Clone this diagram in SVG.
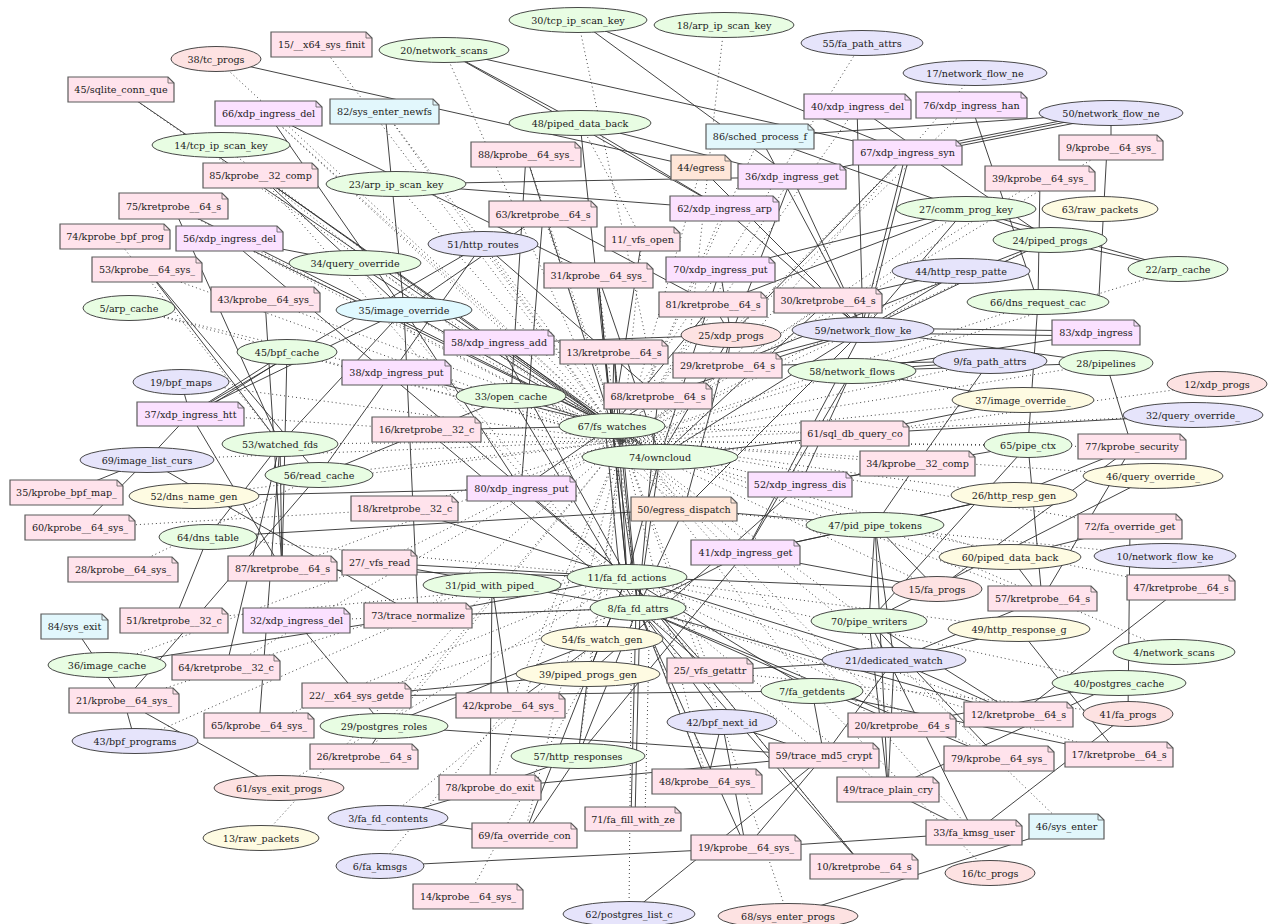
<svg xmlns="http://www.w3.org/2000/svg" width="1268" height="924" viewBox="0 0 1268 924">
<style>
text{font-family:"DejaVu Serif","Liberation Serif",serif;font-size:9.6px;fill:#1a1a1a;text-anchor:middle;dominant-baseline:central}
.s line{stroke:#2e2e2e;stroke-width:.9}
.d line{stroke:#444;stroke-width:1;stroke-dasharray:1 3}
.nb{stroke:#5a5a5a;stroke-width:1.2}
.f{fill:none;stroke:#5a5a5a;stroke-width:.8}
.eb{stroke:#333;stroke-width:.9}
.p{fill:#ffe3ec}.x{fill:#fbe1ff}.c{fill:#e2f7fc}.e{fill:#ffe6d8}
.g{fill:#e8fde3}.l{fill:#e6e4fb}.r{fill:#fde2e2}.y{fill:#fefbe2}.ci{fill:#e0f9ff}
</style>
<rect width="1268" height="924" fill="#fff"/>
<g id="connectors">
<g class="s">
<line x1="216" y1="59" x2="701" y2="168"/><line x1="121" y1="90" x2="612" y2="426"/><line x1="268" y1="114" x2="404" y2="310"/><line x1="268" y1="114" x2="598" y2="276"/><line x1="385" y1="112" x2="404" y2="310"/><line x1="260" y1="176" x2="612" y2="426"/><line x1="260" y1="176" x2="660" y2="457"/><line x1="260" y1="176" x2="404" y2="310"/><line x1="173" y1="206" x2="280" y2="444"/><line x1="173" y1="206" x2="612" y2="426"/><line x1="229" y1="239" x2="355" y2="263"/><line x1="229" y1="239" x2="612" y2="426"/><line x1="229" y1="239" x2="627" y2="577"/><line x1="147" y1="270" x2="280" y2="444"/><line x1="147" y1="270" x2="319" y2="475"/><line x1="265" y1="300" x2="282" y2="569"/><line x1="444" y1="50" x2="580" y2="123"/><line x1="444" y1="50" x2="724" y2="209"/><line x1="444" y1="50" x2="908" y2="153"/><line x1="578" y1="20" x2="792" y2="177"/><line x1="578" y1="20" x2="908" y2="153"/><line x1="580" y1="123" x2="612" y2="426"/><line x1="580" y1="123" x2="724" y2="209"/><line x1="580" y1="123" x2="792" y2="177"/><line x1="526" y1="155" x2="511" y2="396"/><line x1="526" y1="155" x2="612" y2="426"/><line x1="543" y1="214" x2="404" y2="310"/><line x1="543" y1="214" x2="521" y2="489"/><line x1="483" y1="244" x2="190" y2="414"/><line x1="483" y1="244" x2="319" y2="475"/><line x1="483" y1="244" x2="658" y2="396"/><line x1="642" y1="239" x2="612" y2="426"/><line x1="1111" y1="113" x2="760" y2="137"/><line x1="1111" y1="113" x2="792" y2="177"/><line x1="1111" y1="111" x2="908" y2="151"/><line x1="1111" y1="116" x2="908" y2="156"/><line x1="1111" y1="113" x2="1111" y2="148"/><line x1="1107" y1="148" x2="1099" y2="296"/><line x1="1040" y1="179" x2="1038" y2="302"/><line x1="1038" y1="302" x2="1028" y2="445"/><line x1="971" y1="105" x2="1038" y2="302"/><line x1="857" y1="107" x2="1050" y2="240"/><line x1="906" y1="153" x2="861" y2="330"/><line x1="910" y1="153" x2="865" y2="330"/><line x1="1050" y1="240" x2="1178" y2="269"/><line x1="966" y1="209" x2="1178" y2="269"/><line x1="287" y1="352" x2="190" y2="414"/><line x1="291" y1="354" x2="194" y2="416"/><line x1="404" y1="310" x2="190" y2="414"/><line x1="287" y1="352" x2="282" y2="569"/><line x1="181" y1="382" x2="190" y2="414"/><line x1="190" y1="414" x2="147" y2="460"/><line x1="147" y1="460" x2="66" y2="493"/><line x1="147" y1="460" x2="80" y2="528"/><line x1="190" y1="414" x2="282" y2="569"/><line x1="147" y1="460" x2="418" y2="616"/><line x1="194" y1="496" x2="521" y2="489"/><line x1="208" y1="537" x2="684" y2="509"/><line x1="208" y1="537" x2="280" y2="444"/><line x1="208" y1="537" x2="174" y2="621"/><line x1="280" y1="444" x2="259" y2="726"/><line x1="280" y1="444" x2="282" y2="569"/><line x1="319" y1="475" x2="511" y2="396"/><line x1="124" y1="701" x2="74" y2="627"/><line x1="124" y1="701" x2="279" y2="788"/><line x1="124" y1="701" x2="135" y2="741"/><line x1="124" y1="701" x2="319" y2="475"/><line x1="107" y1="665" x2="418" y2="616"/><line x1="296" y1="621" x2="384" y2="726"/><line x1="364" y1="757" x2="384" y2="726"/><line x1="356" y1="696" x2="812" y2="691"/><line x1="384" y1="726" x2="824" y2="756"/><line x1="490" y1="788" x2="388" y2="818"/><line x1="490" y1="788" x2="824" y2="756"/><line x1="490" y1="788" x2="492" y2="585"/><line x1="490" y1="788" x2="578" y2="756"/><line x1="388" y1="818" x2="524" y2="836"/><line x1="524" y1="836" x2="578" y2="756"/><line x1="524" y1="836" x2="602" y2="639"/><line x1="631" y1="819" x2="636" y2="608"/><line x1="635" y1="819" x2="640" y2="608"/><line x1="629" y1="914" x2="824" y2="756"/><line x1="746" y1="848" x2="638" y2="608"/><line x1="746" y1="848" x2="824" y2="756"/><line x1="746" y1="848" x2="380" y2="866"/><line x1="746" y1="848" x2="974" y2="833"/><line x1="788" y1="916" x2="1066" y2="827"/><line x1="869" y1="621" x2="999" y2="759"/><line x1="869" y1="621" x2="974" y2="833"/><line x1="894" y1="660" x2="1018" y2="715"/><line x1="1019" y1="629" x2="1119" y2="755"/><line x1="894" y1="660" x2="1019" y2="629"/><line x1="894" y1="660" x2="888" y2="790"/><line x1="894" y1="660" x2="824" y2="756"/><line x1="1119" y1="683" x2="902" y2="725"/><line x1="1119" y1="683" x2="888" y2="790"/><line x1="1128" y1="714" x2="974" y2="833"/><line x1="1130" y1="527" x2="1128" y2="714"/><line x1="1181" y1="588" x2="1018" y2="715"/><line x1="1119" y1="755" x2="812" y2="691"/><line x1="863" y1="328" x2="1096" y2="331"/><line x1="863" y1="333" x2="1096" y2="336"/><line x1="863" y1="330" x2="1106" y2="363"/><line x1="1096" y1="333" x2="852" y2="371"/><line x1="1106" y1="363" x2="852" y2="371"/><line x1="1106" y1="363" x2="1132" y2="447"/><line x1="990" y1="361" x2="917" y2="464"/><line x1="855" y1="434" x2="1193" y2="415"/><line x1="1028" y1="445" x2="1042" y2="599"/><line x1="1028" y1="445" x2="869" y2="621"/><line x1="1132" y1="447" x2="1042" y2="599"/><line x1="1132" y1="447" x2="937" y2="589"/><line x1="1130" y1="527" x2="1010" y2="557"/><line x1="226" y1="668" x2="280" y2="444"/><line x1="404" y1="310" x2="280" y2="444"/><line x1="404" y1="310" x2="418" y2="616"/><line x1="404" y1="310" x2="612" y2="426"/><line x1="404" y1="310" x2="521" y2="489"/><line x1="499" y1="343" x2="731" y2="335"/><line x1="396" y1="184" x2="724" y2="209"/><line x1="396" y1="184" x2="792" y2="177"/><line x1="543" y1="214" x2="713" y2="305"/><line x1="792" y1="177" x2="731" y2="335"/><line x1="908" y1="153" x2="731" y2="335"/><line x1="760" y1="137" x2="1050" y2="240"/><line x1="857" y1="107" x2="863" y2="330"/><line x1="510" y1="706" x2="492" y2="585"/><line x1="888" y1="790" x2="974" y2="833"/><line x1="638" y1="608" x2="864" y2="867"/><line x1="627" y1="577" x2="864" y2="867"/>
<line x1="605" y1="426" x2="620" y2="577"/><line x1="612" y1="426" x2="627" y2="577"/><line x1="619" y1="426" x2="634" y2="577"/><line x1="612" y1="426" x2="638" y2="608"/><line x1="660" y1="457" x2="627" y2="577"/><line x1="660" y1="457" x2="638" y2="608"/><line x1="658" y1="396" x2="612" y2="426"/><line x1="614" y1="352" x2="612" y2="426"/><line x1="598" y1="276" x2="612" y2="426"/><line x1="598" y1="276" x2="660" y2="457"/><line x1="713" y1="305" x2="731" y2="335"/><line x1="720" y1="270" x2="731" y2="335"/><line x1="727" y1="366" x2="731" y2="335"/><line x1="828" y1="301" x2="863" y2="330"/><line x1="724" y1="209" x2="863" y2="330"/><line x1="792" y1="177" x2="863" y2="330"/><line x1="701" y1="168" x2="863" y2="330"/><line x1="760" y1="137" x2="863" y2="330"/><line x1="731" y1="335" x2="660" y2="457"/><line x1="731" y1="335" x2="684" y2="509"/><line x1="863" y1="330" x2="745" y2="553"/><line x1="863" y1="330" x2="684" y2="509"/><line x1="863" y1="330" x2="660" y2="457"/><line x1="852" y1="371" x2="800" y2="485"/><line x1="852" y1="371" x2="745" y2="553"/><line x1="875" y1="525" x2="745" y2="553"/><line x1="875" y1="525" x2="869" y2="621"/><line x1="875" y1="525" x2="894" y2="660"/><line x1="875" y1="525" x2="684" y2="509"/><line x1="875" y1="525" x2="937" y2="589"/><line x1="875" y1="525" x2="888" y2="790"/><line x1="627" y1="577" x2="894" y2="660"/><line x1="627" y1="577" x2="812" y2="691"/><line x1="638" y1="608" x2="902" y2="725"/><line x1="638" y1="608" x2="1018" y2="715"/><line x1="638" y1="608" x2="999" y2="759"/><line x1="638" y1="608" x2="722" y2="722"/><line x1="638" y1="608" x2="578" y2="756"/><line x1="627" y1="577" x2="588" y2="674"/><line x1="627" y1="577" x2="602" y2="639"/><line x1="638" y1="608" x2="707" y2="782"/><line x1="602" y1="639" x2="510" y2="706"/><line x1="602" y1="639" x2="384" y2="726"/><line x1="588" y1="674" x2="578" y2="756"/><line x1="588" y1="674" x2="356" y2="696"/><line x1="627" y1="577" x2="379" y2="563"/><line x1="627" y1="577" x2="282" y2="569"/><line x1="627" y1="577" x2="418" y2="616"/><line x1="638" y1="608" x2="418" y2="616"/><line x1="379" y1="563" x2="638" y2="608"/><line x1="404" y1="509" x2="627" y2="577"/><line x1="426" y1="430" x2="612" y2="426"/><line x1="426" y1="430" x2="638" y2="608"/><line x1="396" y1="373" x2="612" y2="426"/><line x1="499" y1="343" x2="612" y2="426"/><line x1="499" y1="343" x2="627" y2="577"/><line x1="511" y1="396" x2="612" y2="426"/><line x1="511" y1="396" x2="638" y2="608"/><line x1="521" y1="489" x2="612" y2="426"/><line x1="521" y1="489" x2="627" y2="577"/><line x1="684" y1="509" x2="638" y2="608"/><line x1="745" y1="553" x2="638" y2="608"/><line x1="710" y1="671" x2="638" y2="608"/><line x1="710" y1="671" x2="894" y2="660"/><line x1="710" y1="671" x2="627" y2="577"/><line x1="812" y1="691" x2="824" y2="756"/><line x1="722" y1="722" x2="824" y2="756"/><line x1="722" y1="722" x2="746" y2="848"/><line x1="707" y1="782" x2="722" y2="722"/><line x1="869" y1="621" x2="888" y2="790"/><line x1="869" y1="621" x2="1018" y2="715"/><line x1="1010" y1="557" x2="1042" y2="599"/><line x1="1014" y1="495" x2="745" y2="553"/><line x1="1014" y1="495" x2="875" y2="525"/><line x1="1023" y1="400" x2="852" y2="371"/><line x1="1023" y1="400" x2="855" y2="434"/><line x1="961" y1="271" x2="863" y2="330"/><line x1="961" y1="271" x2="828" y2="301"/><line x1="966" y1="209" x2="863" y2="330"/><line x1="966" y1="209" x2="720" y2="270"/><line x1="966" y1="209" x2="713" y2="305"/><line x1="1050" y1="240" x2="863" y2="330"/><line x1="1050" y1="240" x2="727" y2="366"/><line x1="990" y1="361" x2="852" y2="371"/><line x1="990" y1="361" x2="727" y2="366"/><line x1="917" y1="464" x2="875" y2="525"/><line x1="917" y1="464" x2="800" y2="485"/><line x1="855" y1="434" x2="660" y2="457"/><line x1="1028" y1="445" x2="800" y2="485"/><line x1="1132" y1="447" x2="1014" y2="495"/><line x1="1153" y1="476" x2="869" y2="621"/><line x1="937" y1="589" x2="745" y2="553"/><line x1="937" y1="589" x2="627" y2="577"/><line x1="745" y1="553" x2="578" y2="756"/><line x1="800" y1="485" x2="588" y2="674"/><line x1="1042" y1="599" x2="894" y2="660"/><line x1="713" y1="305" x2="612" y2="426"/><line x1="720" y1="270" x2="660" y2="457"/><line x1="828" y1="301" x2="660" y2="457"/><line x1="355" y1="263" x2="660" y2="457"/><line x1="614" y1="352" x2="638" y2="608"/><line x1="658" y1="396" x2="638" y2="608"/><line x1="614" y1="352" x2="627" y2="577"/><line x1="598" y1="276" x2="627" y2="577"/><line x1="658" y1="396" x2="863" y2="330"/><line x1="727" y1="366" x2="863" y2="330"/>
</g>
<g class="d">
<line x1="321" y1="45" x2="622" y2="441"/><line x1="216" y1="59" x2="612" y2="426"/><line x1="121" y1="90" x2="622" y2="441"/><line x1="268" y1="114" x2="622" y2="441"/><line x1="268" y1="114" x2="612" y2="426"/><line x1="385" y1="112" x2="622" y2="441"/><line x1="385" y1="112" x2="684" y2="509"/><line x1="260" y1="176" x2="684" y2="509"/><line x1="260" y1="176" x2="638" y2="608"/><line x1="115" y1="237" x2="280" y2="444"/><line x1="147" y1="270" x2="622" y2="441"/><line x1="265" y1="300" x2="612" y2="426"/><line x1="129" y1="308" x2="396" y2="373"/><line x1="129" y1="308" x2="622" y2="441"/><line x1="444" y1="50" x2="612" y2="426"/><line x1="578" y1="20" x2="658" y2="396"/><line x1="724" y1="25" x2="690" y2="335"/><line x1="580" y1="123" x2="642" y2="239"/><line x1="221" y1="145" x2="622" y2="441"/><line x1="396" y1="184" x2="622" y2="441"/><line x1="229" y1="239" x2="622" y2="441"/><line x1="173" y1="206" x2="622" y2="441"/><line x1="355" y1="263" x2="638" y2="608"/><line x1="190" y1="414" x2="426" y2="430"/><line x1="147" y1="460" x2="622" y2="441"/><line x1="280" y1="444" x2="622" y2="441"/><line x1="319" y1="475" x2="622" y2="441"/><line x1="80" y1="528" x2="404" y2="509"/><line x1="123" y1="570" x2="319" y2="475"/><line x1="194" y1="496" x2="622" y2="441"/><line x1="208" y1="537" x2="627" y2="577"/><line x1="282" y1="569" x2="622" y2="441"/><line x1="379" y1="563" x2="622" y2="441"/><line x1="404" y1="509" x2="622" y2="441"/><line x1="426" y1="430" x2="622" y2="441"/><line x1="396" y1="373" x2="622" y2="441"/><line x1="499" y1="343" x2="622" y2="441"/><line x1="511" y1="396" x2="622" y2="441"/><line x1="614" y1="352" x2="622" y2="441"/><line x1="483" y1="244" x2="622" y2="441"/><line x1="543" y1="214" x2="622" y2="441"/><line x1="526" y1="155" x2="622" y2="441"/><line x1="598" y1="276" x2="638" y2="608"/><line x1="862" y1="43" x2="720" y2="270"/><line x1="975" y1="73" x2="727" y2="366"/><line x1="971" y1="105" x2="731" y2="335"/><line x1="908" y1="153" x2="622" y2="441"/><line x1="1111" y1="148" x2="622" y2="441"/><line x1="1040" y1="179" x2="622" y2="441"/><line x1="966" y1="209" x2="622" y2="441"/><line x1="1050" y1="240" x2="622" y2="441"/><line x1="1178" y1="269" x2="852" y2="371"/><line x1="961" y1="271" x2="622" y2="441"/><line x1="1038" y1="302" x2="622" y2="441"/><line x1="990" y1="361" x2="622" y2="441"/><line x1="1106" y1="363" x2="622" y2="441"/><line x1="1217" y1="384" x2="855" y2="434"/><line x1="1193" y1="415" x2="622" y2="441"/><line x1="1023" y1="400" x2="622" y2="441"/><line x1="1028" y1="445" x2="622" y2="441"/><line x1="1132" y1="447" x2="622" y2="441"/><line x1="1153" y1="476" x2="622" y2="441"/><line x1="1014" y1="495" x2="622" y2="441"/><line x1="1130" y1="527" x2="622" y2="441"/><line x1="1165" y1="556" x2="684" y2="509"/><line x1="1181" y1="588" x2="875" y2="525"/><line x1="1010" y1="557" x2="622" y2="441"/><line x1="937" y1="589" x2="622" y2="441"/><line x1="1042" y1="599" x2="622" y2="441"/><line x1="1019" y1="629" x2="627" y2="577"/><line x1="1174" y1="652" x2="875" y2="525"/><line x1="1119" y1="683" x2="627" y2="577"/><line x1="1128" y1="714" x2="710" y2="671"/><line x1="1119" y1="755" x2="638" y2="608"/><line x1="902" y1="725" x2="622" y2="441"/><line x1="999" y1="759" x2="627" y2="577"/><line x1="894" y1="660" x2="622" y2="441"/><line x1="869" y1="621" x2="622" y2="441"/><line x1="812" y1="691" x2="622" y2="441"/><line x1="824" y1="756" x2="638" y2="608"/><line x1="888" y1="790" x2="627" y2="577"/><line x1="974" y1="833" x2="622" y2="441"/><line x1="990" y1="873" x2="812" y2="691"/><line x1="1066" y1="827" x2="894" y2="660"/><line x1="864" y1="867" x2="627" y2="577"/><line x1="788" y1="916" x2="722" y2="722"/><line x1="707" y1="782" x2="627" y2="577"/><line x1="629" y1="914" x2="632" y2="577"/><line x1="645" y1="819" x2="650" y2="600"/><line x1="468" y1="897" x2="588" y2="674"/><line x1="524" y1="836" x2="622" y2="441"/><line x1="380" y1="866" x2="510" y2="706"/><line x1="388" y1="818" x2="602" y2="639"/><line x1="261" y1="838" x2="492" y2="585"/><line x1="279" y1="788" x2="627" y2="577"/><line x1="364" y1="757" x2="622" y2="441"/><line x1="578" y1="756" x2="622" y2="441"/><line x1="490" y1="788" x2="622" y2="441"/><line x1="384" y1="726" x2="622" y2="441"/><line x1="259" y1="726" x2="627" y2="577"/><line x1="135" y1="741" x2="418" y2="616"/><line x1="124" y1="701" x2="492" y2="585"/><line x1="107" y1="665" x2="379" y2="563"/><line x1="226" y1="668" x2="622" y2="441"/><line x1="174" y1="621" x2="627" y2="577"/><line x1="296" y1="621" x2="638" y2="608"/><line x1="418" y1="616" x2="622" y2="441"/><line x1="356" y1="696" x2="638" y2="608"/><line x1="588" y1="674" x2="622" y2="441"/><line x1="602" y1="639" x2="622" y2="441"/><line x1="510" y1="706" x2="622" y2="441"/><line x1="710" y1="671" x2="622" y2="441"/><line x1="722" y1="722" x2="622" y2="441"/><line x1="707" y1="782" x2="622" y2="441"/><line x1="745" y1="553" x2="622" y2="441"/><line x1="800" y1="485" x2="622" y2="441"/><line x1="855" y1="434" x2="612" y2="426"/><line x1="917" y1="464" x2="622" y2="441"/><line x1="875" y1="525" x2="622" y2="441"/><line x1="852" y1="371" x2="622" y2="441"/><line x1="727" y1="366" x2="622" y2="441"/><line x1="713" y1="305" x2="622" y2="441"/><line x1="828" y1="301" x2="622" y2="441"/><line x1="720" y1="270" x2="612" y2="426"/><line x1="642" y1="239" x2="622" y2="441"/><line x1="701" y1="168" x2="622" y2="441"/><line x1="724" y1="209" x2="622" y2="441"/><line x1="760" y1="137" x2="622" y2="441"/><line x1="792" y1="177" x2="622" y2="441"/><line x1="857" y1="107" x2="622" y2="441"/><line x1="404" y1="310" x2="622" y2="441"/><line x1="287" y1="352" x2="622" y2="441"/><line x1="181" y1="382" x2="622" y2="441"/><line x1="1018" y1="715" x2="627" y2="577"/>
</g>
</g>
<g id="nodes">
<g id="prog-15"><path class="p nb" d="M271 32h95l6 6v19h-101z"/><path class="f" d="M366 32v6h6"/><text x="321.5" y="44.5">15/__x64_sys_finit</text></g>
<g id="prog-45"><path class="p nb" d="M68 77h100l6 6v19h-106z"/><path class="f" d="M168 77v6h6"/><text x="121" y="89.5">45/sqlite_conn_que</text></g>
<g id="prog-66"><path class="x nb" d="M215 101h101l6 6v19h-107z"/><path class="f" d="M316 101v6h6"/><text x="268.5" y="113.5">66/xdp_ingress_del</text></g>
<g id="prog-82"><path class="c nb" d="M330 99h103l6 6v19h-109z"/><path class="f" d="M433 99v6h6"/><text x="384.5" y="111.5">82/sys_enter_newfs</text></g>
<g id="prog-85"><path class="p nb" d="M203 163h109l6 6v19h-115z"/><path class="f" d="M312 163v6h6"/><text x="260.5" y="175.5">85/kprobe__32_comp</text></g>
<g id="prog-75"><path class="p nb" d="M119 193h103l6 6v20h-109z"/><path class="f" d="M222 193v6h6"/><text x="173.5" y="206">75/kretprobe__64_s</text></g>
<g id="prog-74"><path class="p nb" d="M60 224h104l6 6v19h-110z"/><path class="f" d="M164 224v6h6"/><text x="115" y="236.5">74/kprobe_bpf_prog</text></g>
<g id="prog-56"><path class="x nb" d="M176 226h101l6 6v19h-107z"/><path class="f" d="M277 226v6h6"/><text x="229.5" y="238.5">56/xdp_ingress_del</text></g>
<g id="prog-53"><path class="p nb" d="M92 257h104l6 6v19h-110z"/><path class="f" d="M196 257v6h6"/><text x="147" y="269.5">53/kprobe__64_sys_</text></g>
<g id="prog-43"><path class="p nb" d="M211 287h103l6 6v19h-109z"/><path class="f" d="M314 287v6h6"/><text x="265.5" y="299.5">43/kprobe__64_sys_</text></g>
<g id="prog-88"><path class="p nb" d="M471 142h104l6 6v19h-110z"/><path class="f" d="M575 142v6h6"/><text x="526" y="154.5">88/kprobe__64_sys_</text></g>
<g id="prog-86"><path class="c nb" d="M706 124h102l6 6v19h-108z"/><path class="f" d="M808 124v6h6"/><text x="760" y="136.5">86/sched_process_f</text></g>
<g id="prog-40"><path class="x nb" d="M804 94h101l6 6v19h-107z"/><path class="f" d="M905 94v6h6"/><text x="857.5" y="106.5">40/xdp_ingress_del</text></g>
<g id="prog-44"><path class="e nb" d="M671 155h54l6 6v19h-60z"/><path class="f" d="M725 155v6h6"/><text x="701" y="167.5">44/egress</text></g>
<g id="prog-36"><path class="x nb" d="M738 164h102l6 6v19h-108z"/><path class="f" d="M840 164v6h6"/><text x="792" y="176.5">36/xdp_ingress_get</text></g>
<g id="prog-62"><path class="x nb" d="M670 196h103l6 6v19h-109z"/><path class="f" d="M773 196v6h6"/><text x="724.5" y="208.5">62/xdp_ingress_arp</text></g>
<g id="prog-63"><path class="p nb" d="M489 201h102l6 6v20h-108z"/><path class="f" d="M591 201v6h6"/><text x="543" y="214">63/kretprobe__64_s</text></g>
<g id="prog-11"><path class="p nb" d="M605 227h69l6 6v18h-75z"/><path class="f" d="M674 227v6h6"/><text x="642.5" y="239">11/_vfs_open</text></g>
<g id="prog-31"><path class="p nb" d="M544 263h103l6 6v19h-109z"/><path class="f" d="M647 263v6h6"/><text x="598.5" y="275.5">31/kprobe__64_sys_</text></g>
<g id="prog-70"><path class="x nb" d="M666 257h103l6 6v19h-109z"/><path class="f" d="M769 257v6h6"/><text x="720.5" y="269.5">70/xdp_ingress_put</text></g>
<g id="prog-81"><path class="p nb" d="M659 292h102l6 6v19h-108z"/><path class="f" d="M761 292v6h6"/><text x="713" y="304.5">81/kretprobe__64_s</text></g>
<g id="prog-30"><path class="p nb" d="M774 288h102l6 6v19h-108z"/><path class="f" d="M876 288v6h6"/><text x="828" y="300.5">30/kretprobe__64_s</text></g>
<g id="prog-76"><path class="x nb" d="M916 92h105l6 6v20h-111z"/><path class="f" d="M1021 92v6h6"/><text x="971.5" y="105">76/xdp_ingress_han</text></g>
<g id="prog-67"><path class="x nb" d="M853 140h103l6 6v19h-109z"/><path class="f" d="M956 140v6h6"/><text x="907.5" y="152.5">67/xdp_ingress_syn</text></g>
<g id="prog-9"><path class="p nb" d="M1059 135h98l6 6v19h-104z"/><path class="f" d="M1157 135v6h6"/><text x="1111" y="147.5">9/kprobe__64_sys_</text></g>
<g id="prog-39"><path class="p nb" d="M985 166h104l6 6v19h-110z"/><path class="f" d="M1089 166v6h6"/><text x="1040" y="178.5">39/kprobe__64_sys_</text></g>
<g id="prog-38"><path class="x nb" d="M342 360h103l6 6v19h-109z"/><path class="f" d="M445 360v6h6"/><text x="396.5" y="372.5">38/xdp_ingress_put</text></g>
<g id="prog-37"><path class="x nb" d="M137 402h101l6 6v18h-107z"/><path class="f" d="M238 402v6h6"/><text x="190.5" y="414">37/xdp_ingress_htt</text></g>
<g id="prog-16"><path class="p nb" d="M372 417h103l6 6v19h-109z"/><path class="f" d="M475 417v6h6"/><text x="426.5" y="429.5">16/kretprobe__32_c</text></g>
<g id="prog-35"><path class="p nb" d="M10 480h107l6 6v19h-113z"/><path class="f" d="M117 480v6h6"/><text x="66.5" y="492.5">35/kprobe_bpf_map_</text></g>
<g id="prog-18"><path class="p nb" d="M351 496h101l6 6v19h-107z"/><path class="f" d="M452 496v6h6"/><text x="404.5" y="508.5">18/kretprobe__32_c</text></g>
<g id="prog-60"><path class="p nb" d="M25 515h104l6 6v19h-110z"/><path class="f" d="M129 515v6h6"/><text x="80" y="527.5">60/kprobe__64_sys_</text></g>
<g id="prog-28"><path class="p nb" d="M68 557h104l6 6v19h-110z"/><path class="f" d="M172 557v6h6"/><text x="123" y="569.5">28/kprobe__64_sys_</text></g>
<g id="prog-87"><path class="p nb" d="M228 556h103l6 6v19h-109z"/><path class="f" d="M331 556v6h6"/><text x="282.5" y="568.5">87/kretprobe__64_s</text></g>
<g id="prog-27"><path class="p nb" d="M342 550h69l6 6v19h-75z"/><path class="f" d="M411 550v6h6"/><text x="379.5" y="562.5">27/_vfs_read</text></g>
<g id="prog-84"><path class="c nb" d="M41 614h61l6 6v19h-67z"/><path class="f" d="M102 614v6h6"/><text x="74.5" y="626.5">84/sys_exit</text></g>
<g id="prog-51"><path class="p nb" d="M120 608h102l6 6v19h-108z"/><path class="f" d="M222 608v6h6"/><text x="174" y="620.5">51/kretprobe__32_c</text></g>
<g id="prog-32"><path class="x nb" d="M243 608h101l6 6v19h-107z"/><path class="f" d="M344 608v6h6"/><text x="296.5" y="620.5">32/xdp_ingress_del</text></g>
<g id="prog-73"><path class="p nb" d="M364 603h102l6 6v19h-108z"/><path class="f" d="M466 603v6h6"/><text x="418" y="615.5">73/trace_normalize</text></g>
<g id="prog-58"><path class="x nb" d="M444 330h104l6 6v19h-110z"/><path class="f" d="M548 330v6h6"/><text x="499" y="342.5">58/xdp_ingress_add</text></g>
<g id="prog-13"><path class="p nb" d="M560 340h102l6 6v18h-108z"/><path class="f" d="M662 340v6h6"/><text x="614" y="352">13/kretprobe__64_s</text></g>
<g id="prog-29"><path class="p nb" d="M673 353h103l6 6v19h-109z"/><path class="f" d="M776 353v6h6"/><text x="727.5" y="365.5">29/kretprobe__64_s</text></g>
<g id="prog-68"><path class="p nb" d="M604 383h102l6 6v20h-108z"/><path class="f" d="M706 383v6h6"/><text x="658" y="396">68/kretprobe__64_s</text></g>
<g id="prog-61"><path class="p nb" d="M801 421h102l6 6v19h-108z"/><path class="f" d="M903 421v6h6"/><text x="855" y="433.5">61/sql_db_query_co</text></g>
<g id="prog-52"><path class="x nb" d="M748 472h98l6 6v19h-104z"/><path class="f" d="M846 472v6h6"/><text x="800" y="484.5">52/xdp_ingress_dis</text></g>
<g id="prog-80"><path class="x nb" d="M467 476h103l6 6v19h-109z"/><path class="f" d="M570 476v6h6"/><text x="521.5" y="488.5">80/xdp_ingress_put</text></g>
<g id="prog-50"><path class="e nb" d="M631 497h100l6 6v18h-106z"/><path class="f" d="M731 497v6h6"/><text x="684" y="509">50/egress_dispatch</text></g>
<g id="prog-41"><path class="x nb" d="M691 540h103l6 6v19h-109z"/><path class="f" d="M794 540v6h6"/><text x="745.5" y="552.5">41/xdp_ingress_get</text></g>
<g id="prog-83"><path class="x nb" d="M1052 320h82l6 6v19h-88z"/><path class="f" d="M1134 320v6h6"/><text x="1096" y="332.5">83/xdp_ingress</text></g>
<g id="prog-77"><path class="p nb" d="M1078 434h102l6 6v19h-108z"/><path class="f" d="M1180 434v6h6"/><text x="1132" y="446.5">77/kprobe_security</text></g>
<g id="prog-34"><path class="p nb" d="M860 451h109l6 6v19h-115z"/><path class="f" d="M969 451v6h6"/><text x="917.5" y="463.5">34/kprobe__32_comp</text></g>
<g id="prog-72"><path class="p nb" d="M1078 514h98l6 6v19h-104z"/><path class="f" d="M1176 514v6h6"/><text x="1130" y="526.5">72/fa_override_get</text></g>
<g id="prog-57"><path class="p nb" d="M988 586h103l6 6v19h-109z"/><path class="f" d="M1091 586v6h6"/><text x="1042.5" y="598.5">57/kretprobe__64_s</text></g>
<g id="prog-47"><path class="p nb" d="M1127 575h102l6 6v19h-108z"/><path class="f" d="M1229 575v6h6"/><text x="1181" y="587.5">47/kretprobe__64_s</text></g>
<g id="prog-25"><path class="p nb" d="M667 658h80l6 6v19h-86z"/><path class="f" d="M747 658v6h6"/><text x="710" y="670.5">25/_vfs_getattr</text></g>
<g id="prog-42"><path class="p nb" d="M456 693h103l6 6v19h-109z"/><path class="f" d="M559 693v6h6"/><text x="510.5" y="705.5">42/kprobe__64_sys_</text></g>
<g id="prog-22"><path class="p nb" d="M302 683h103l6 6v19h-109z"/><path class="f" d="M405 683v6h6"/><text x="356.5" y="695.5">22/__x64_sys_getde</text></g>
<g id="prog-64"><path class="p nb" d="M172 655h102l6 6v19h-108z"/><path class="f" d="M274 655v6h6"/><text x="226" y="667.5">64/kretprobe__32_c</text></g>
<g id="prog-21"><path class="p nb" d="M69 688h104l6 6v19h-110z"/><path class="f" d="M173 688v6h6"/><text x="124" y="700.5">21/kprobe__64_sys_</text></g>
<g id="prog-12"><path class="p nb" d="M964 702h103l6 6v19h-109z"/><path class="f" d="M1067 702v6h6"/><text x="1018.5" y="714.5">12/kretprobe__64_s</text></g>
<g id="prog-20"><path class="p nb" d="M848 713h102l6 6v18h-108z"/><path class="f" d="M950 713v6h6"/><text x="902" y="725">20/kretprobe__64_s</text></g>
<g id="prog-65"><path class="p nb" d="M204 713h104l6 6v19h-110z"/><path class="f" d="M308 713v6h6"/><text x="259" y="725.5">65/kprobe__64_sys_</text></g>
<g id="prog-59"><path class="p nb" d="M769 743h104l6 6v19h-110z"/><path class="f" d="M873 743v6h6"/><text x="824" y="755.5">59/trace_md5_crypt</text></g>
<g id="prog-79"><path class="p nb" d="M944 746h104l6 6v19h-110z"/><path class="f" d="M1048 746v6h6"/><text x="999" y="758.5">79/kprobe__64_sys_</text></g>
<g id="prog-17"><path class="p nb" d="M1065 742h102l6 6v19h-108z"/><path class="f" d="M1167 742v6h6"/><text x="1119" y="754.5">17/kretprobe__64_s</text></g>
<g id="prog-26"><path class="p nb" d="M310 744h102l6 6v19h-108z"/><path class="f" d="M412 744v6h6"/><text x="364" y="756.5">26/kretprobe__64_s</text></g>
<g id="prog-48"><path class="p nb" d="M652 769h104l6 6v19h-110z"/><path class="f" d="M756 769v6h6"/><text x="707" y="781.5">48/kprobe__64_sys_</text></g>
<g id="prog-49"><path class="p nb" d="M837 777h96l6 6v19h-102z"/><path class="f" d="M933 777v6h6"/><text x="888" y="789.5">49/trace_plain_cry</text></g>
<g id="prog-78"><path class="p nb" d="M439 775h96l6 6v19h-102z"/><path class="f" d="M535 775v6h6"/><text x="490" y="787.5">78/kprobe_do_exit</text></g>
<g id="prog-71"><path class="p nb" d="M585 807h90l6 6v18h-96z"/><path class="f" d="M675 807v6h6"/><text x="633" y="819">71/fa_fill_with_ze</text></g>
<g id="prog-69"><path class="p nb" d="M472 823h99l6 6v19h-105z"/><path class="f" d="M571 823v6h6"/><text x="524.5" y="835.5">69/fa_override_con</text></g>
<g id="prog-33"><path class="p nb" d="M926 820h90l6 6v19h-96z"/><path class="f" d="M1016 820v6h6"/><text x="974" y="832.5">33/fa_kmsg_user</text></g>
<g id="prog-46"><path class="c nb" d="M1029 814h69l6 6v19h-75z"/><path class="f" d="M1098 814v6h6"/><text x="1066.5" y="826.5">46/sys_enter</text></g>
<g id="prog-19"><path class="p nb" d="M691 835h104l6 6v19h-110z"/><path class="f" d="M795 835v6h6"/><text x="746" y="847.5">19/kprobe__64_sys_</text></g>
<g id="prog-10"><path class="p nb" d="M810 854h102l6 6v19h-108z"/><path class="f" d="M912 854v6h6"/><text x="864" y="866.5">10/kretprobe__64_s</text></g>
<g id="prog-14"><path class="p nb" d="M413 884h104l6 6v19h-110z"/><path class="f" d="M517 884v6h6"/><text x="468" y="896.5">14/kprobe__64_sys_</text></g>

<g id="map-38"><ellipse class="r eb" cx="216" cy="59" rx="45" ry="12.5"/><text x="216" y="59">38/tc_progs</text></g>
<g id="map-20"><ellipse class="g eb" cx="444" cy="50" rx="65" ry="12.5"/><text x="444" y="50">20/network_scans</text></g>
<g id="map-14"><ellipse class="g eb" cx="221" cy="145" rx="69" ry="12.5"/><text x="221" y="145">14/tcp_ip_scan_key</text></g>
<g id="map-23"><ellipse class="g eb" cx="396" cy="184" rx="70" ry="12.5"/><text x="396" y="184">23/arp_ip_scan_key</text></g>
<g id="map-34"><ellipse class="g eb" cx="355" cy="263" rx="66" ry="12.5"/><text x="355" y="263">34/query_override</text></g>
<g id="map-5"><ellipse class="g eb" cx="129" cy="308" rx="46" ry="12.5"/><text x="129" y="308">5/arp_cache</text></g>
<g id="map-35"><ellipse class="ci eb" cx="404" cy="310" rx="68" ry="12.5"/><text x="404" y="310">35/image_override</text></g>
<g id="map-30"><ellipse class="g eb" cx="578" cy="20" rx="69" ry="12.5"/><text x="578" y="20">30/tcp_ip_scan_key</text></g>
<g id="map-18"><ellipse class="g eb" cx="724" cy="25" rx="70" ry="12.5"/><text x="724" y="25">18/arp_ip_scan_key</text></g>
<g id="map-55"><ellipse class="l eb" cx="862" cy="43" rx="61" ry="12.5"/><text x="862" y="43">55/fa_path_attrs</text></g>
<g id="map-48"><ellipse class="g eb" cx="580" cy="123" rx="71" ry="12.5"/><text x="580" y="123">48/piped_data_back</text></g>
<g id="map-51"><ellipse class="l eb" cx="483" cy="244" rx="55" ry="12.5"/><text x="483" y="244">51/http_routes</text></g>
<g id="map-17"><ellipse class="l eb" cx="975" cy="73" rx="72" ry="12.5"/><text x="975" y="73">17/network_flow_ne</text></g>
<g id="map-50"><ellipse class="l eb" cx="1111" cy="113" rx="72" ry="12.5"/><text x="1111" y="113">50/network_flow_ne</text></g>
<g id="map-27"><ellipse class="g eb" cx="966" cy="209" rx="70" ry="12.5"/><text x="966" y="209">27/comm_prog_key</text></g>
<g id="map-63"><ellipse class="y eb" cx="1100" cy="209" rx="58" ry="12.5"/><text x="1100" y="209">63/raw_packets</text></g>
<g id="map-24"><ellipse class="g eb" cx="1050" cy="240" rx="57" ry="12.5"/><text x="1050" y="240">24/piped_progs</text></g>
<g id="map-22"><ellipse class="g eb" cx="1178" cy="269" rx="50" ry="12.5"/><text x="1178" y="269">22/arp_cache</text></g>
<g id="map-44"><ellipse class="l eb" cx="961" cy="271" rx="69" ry="12.5"/><text x="961" y="271">44/http_resp_patte</text></g>
<g id="map-66"><ellipse class="g eb" cx="1038" cy="302" rx="71" ry="12.5"/><text x="1038" y="302">66/dns_request_cac</text></g>
<g id="map-45"><ellipse class="g eb" cx="287" cy="352" rx="50" ry="12.5"/><text x="287" y="352">45/bpf_cache</text></g>
<g id="map-19"><ellipse class="l eb" cx="181" cy="382" rx="48" ry="12.5"/><text x="181" y="382">19/bpf_maps</text></g>
<g id="map-53"><ellipse class="g eb" cx="280" cy="444" rx="58" ry="12.5"/><text x="280" y="444">53/watched_fds</text></g>
<g id="map-69"><ellipse class="l eb" cx="147" cy="460" rx="67" ry="12.5"/><text x="147" y="460">69/image_list_curs</text></g>
<g id="map-56"><ellipse class="g eb" cx="319" cy="475" rx="54" ry="12.5"/><text x="319" y="475">56/read_cache</text></g>
<g id="map-52"><ellipse class="y eb" cx="194" cy="496" rx="65" ry="12.5"/><text x="194" y="496">52/dns_name_gen</text></g>
<g id="map-64"><ellipse class="g eb" cx="208" cy="537" rx="49" ry="12.5"/><text x="208" y="537">64/dns_table</text></g>
<g id="map-25"><ellipse class="r eb" cx="731" cy="335" rx="50" ry="12.5"/><text x="731" y="335">25/xdp_progs</text></g>
<g id="map-59"><ellipse class="l eb" cx="863" cy="330" rx="71" ry="12.5"/><text x="863" y="330">59/network_flow_ke</text></g>
<g id="map-58"><ellipse class="g eb" cx="852" cy="371" rx="64" ry="12.5"/><text x="852" y="371">58/network_flows</text></g>
<g id="map-33"><ellipse class="g eb" cx="511" cy="396" rx="55" ry="12.5"/><text x="511" y="396">33/open_cache</text></g>
<g id="map-67"><ellipse class="g eb" cx="612" cy="426" rx="53" ry="12.5"/><text x="612" y="426">67/fs_watches</text></g>
<g id="map-74"><ellipse class="g eb" cx="660" cy="457" rx="78" ry="12.5"/><text x="660" y="457">74/owncloud</text></g>
<g id="map-11"><ellipse class="g eb" cx="627" cy="577" rx="60" ry="12.5"/><text x="627" y="577">11/fa_fd_actions</text></g>
<g id="map-31"><ellipse class="g eb" cx="492" cy="585" rx="69" ry="12.5"/><text x="492" y="585">31/pid_with_piped_</text></g>
<g id="map-8"><ellipse class="g eb" cx="638" cy="608" rx="48" ry="12.5"/><text x="638" y="608">8/fa_fd_attrs</text></g>
<g id="map-9"><ellipse class="l eb" cx="990" cy="361" rx="57" ry="12.5"/><text x="990" y="361">9/fa_path_attrs</text></g>
<g id="map-28"><ellipse class="g eb" cx="1106" cy="363" rx="47" ry="12.5"/><text x="1106" y="363">28/pipelines</text></g>
<g id="map-12"><ellipse class="r eb" cx="1217" cy="384" rx="50" ry="12.5"/><text x="1217" y="384">12/xdp_progs</text></g>
<g id="map-37"><ellipse class="y eb" cx="1023" cy="400" rx="71" ry="12.5"/><text x="1023" y="400">37/image_override_</text></g>
<g id="map-32"><ellipse class="l eb" cx="1193" cy="415" rx="70" ry="12.5"/><text x="1193" y="415">32/query_override_</text></g>
<g id="map-65"><ellipse class="g eb" cx="1028" cy="445" rx="44" ry="12.5"/><text x="1028" y="445">65/pipe_ctx</text></g>
<g id="map-46"><ellipse class="y eb" cx="1153" cy="476" rx="70" ry="12.5"/><text x="1153" y="476">46/query_override_</text></g>
<g id="map-26"><ellipse class="y eb" cx="1014" cy="495" rx="63" ry="12.5"/><text x="1014" y="495">26/http_resp_gen</text></g>
<g id="map-47"><ellipse class="g eb" cx="875" cy="525" rx="69" ry="12.5"/><text x="875" y="525">47/pid_pipe_tokens</text></g>
<g id="map-60"><ellipse class="y eb" cx="1010" cy="557" rx="71" ry="12.5"/><text x="1010" y="557">60/piped_data_back</text></g>
<g id="map-10"><ellipse class="l eb" cx="1165" cy="556" rx="71" ry="12.5"/><text x="1165" y="556">10/network_flow_ke</text></g>
<g id="map-15"><ellipse class="r eb" cx="937" cy="589" rx="45" ry="12.5"/><text x="937" y="589">15/fa_progs</text></g>
<g id="map-70"><ellipse class="g eb" cx="869" cy="621" rx="58" ry="12.5"/><text x="869" y="621">70/pipe_writers</text></g>
<g id="map-49"><ellipse class="y eb" cx="1019" cy="629" rx="71" ry="12.5"/><text x="1019" y="629">49/http_response_g</text></g>
<g id="map-54"><ellipse class="y eb" cx="602" cy="639" rx="61" ry="12.5"/><text x="602" y="639">54/fs_watch_gen</text></g>
<g id="map-21"><ellipse class="l eb" cx="894" cy="660" rx="72" ry="12.5"/><text x="894" y="660">21/dedicated_watch</text></g>
<g id="map-4"><ellipse class="g eb" cx="1174" cy="652" rx="61" ry="12.5"/><text x="1174" y="652">4/network_scans</text></g>
<g id="map-39"><ellipse class="y eb" cx="588" cy="674" rx="72" ry="12.5"/><text x="588" y="674">39/piped_progs_gen</text></g>
<g id="map-7"><ellipse class="g eb" cx="812" cy="691" rx="51" ry="12.5"/><text x="812" y="691">7/fa_getdents</text></g>
<g id="map-40"><ellipse class="g eb" cx="1119" cy="683" rx="67" ry="12.5"/><text x="1119" y="683">40/postgres_cache</text></g>
<g id="map-42"><ellipse class="l eb" cx="722" cy="722" rx="55" ry="12.5"/><text x="722" y="722">42/bpf_next_id</text></g>
<g id="map-41"><ellipse class="r eb" cx="1128" cy="714" rx="45" ry="12.5"/><text x="1128" y="714">41/fa_progs</text></g>
<g id="map-36"><ellipse class="g eb" cx="107" cy="665" rx="59" ry="12.5"/><text x="107" y="665">36/image_cache</text></g>
<g id="map-43"><ellipse class="l eb" cx="135" cy="741" rx="63" ry="12.5"/><text x="135" y="741">43/bpf_programs</text></g>
<g id="map-29"><ellipse class="g eb" cx="384" cy="726" rx="64" ry="12.5"/><text x="384" y="726">29/postgres_roles</text></g>
<g id="map-57"><ellipse class="g eb" cx="578" cy="756" rx="67" ry="12.5"/><text x="578" y="756">57/http_responses</text></g>
<g id="map-61"><ellipse class="r eb" cx="279" cy="788" rx="65" ry="12.5"/><text x="279" y="788">61/sys_exit_progs</text></g>
<g id="map-3"><ellipse class="l eb" cx="388" cy="818" rx="60" ry="12.5"/><text x="388" y="818">3/fa_fd_contents</text></g>
<g id="map-13"><ellipse class="y eb" cx="261" cy="838" rx="58" ry="12.5"/><text x="261" y="838">13/raw_packets</text></g>
<g id="map-16"><ellipse class="r eb" cx="990" cy="873" rx="45" ry="12.5"/><text x="990" y="873">16/tc_progs</text></g>
<g id="map-6"><ellipse class="l eb" cx="380" cy="866" rx="44" ry="12.5"/><text x="380" y="866">6/fa_kmsgs</text></g>
<g id="map-62"><ellipse class="l eb" cx="629" cy="914" rx="66" ry="12.5"/><text x="629" y="914">62/postgres_list_c</text></g>
<g id="map-68"><ellipse class="r eb" cx="788" cy="916" rx="70" ry="12.5"/><text x="788" y="916">68/sys_enter_progs</text></g>
</g>
</svg>
